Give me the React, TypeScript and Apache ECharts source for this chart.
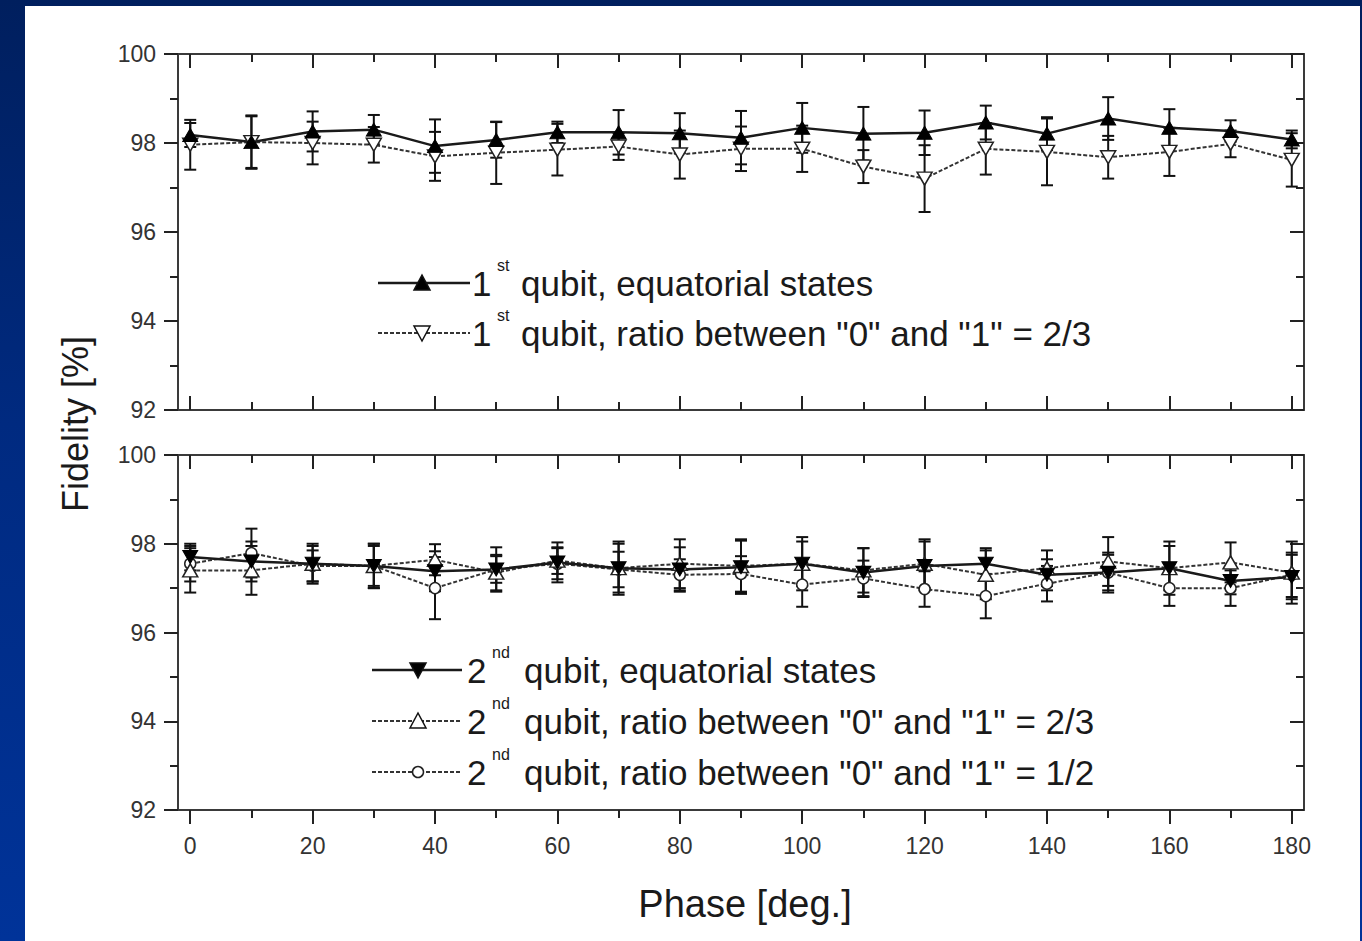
import { useEffect, useRef } from "react";
import * as echarts from "echarts";

const phases = [0, 10, 20, 30, 40, 50, 60, 70, 80, 90, 100, 110, 120, 130, 140, 150, 160, 170, 180];

// Top panel: 1st qubit
const q1Equatorial = [98.18, 98.02, 98.26, 98.3, 97.93, 98.07, 98.24, 98.24, 98.22, 98.12, 98.34, 98.21, 98.23, 98.46, 98.21, 98.55, 98.34, 98.27, 98.08];
const q1EquatorialErr = [0.27, 0.6, 0.45, 0.33, 0.6, 0.4, 0.24, 0.5, 0.45, 0.6, 0.56, 0.6, 0.5, 0.38, 0.37, 0.48, 0.42, 0.24, 0.2];
const q1Ratio23 = [97.96, 98.02, 98.0, 97.96, 97.7, 97.78, 97.85, 97.92, 97.74, 97.87, 97.87, 97.47, 97.2, 97.87, 97.8, 97.68, 97.8, 97.98, 97.62];
const q1Ratio23Err = [0.56, 0.58, 0.48, 0.4, 0.55, 0.7, 0.58, 0.3, 0.54, 0.5, 0.52, 0.37, 0.75, 0.58, 0.75, 0.48, 0.54, 0.3, 0.6];

// Bottom panel: 2nd qubit
const q2Equatorial = [97.7, 97.6, 97.55, 97.5, 97.38, 97.42, 97.58, 97.45, 97.42, 97.47, 97.55, 97.35, 97.5, 97.55, 97.3, 97.35, 97.45, 97.16, 97.25];
const q2EquatorialErr = [0.3, 0.45, 0.45, 0.5, 0.45, 0.5, 0.45, 0.6, 0.5, 0.6, 0.6, 0.55, 0.55, 0.35, 0.35, 0.4, 0.6, 0.3, 0.5];
const q2Ratio23 = [97.4, 97.4, 97.55, 97.5, 97.64, 97.35, 97.62, 97.45, 97.55, 97.5, 97.55, 97.4, 97.55, 97.3, 97.45, 97.6, 97.45, 97.58, 97.35];
const q2Ratio23Err = [0.5, 0.55, 0.4, 0.5, 0.35, 0.4, 0.3, 0.55, 0.55, 0.6, 0.5, 0.5, 0.55, 0.55, 0.4, 0.55, 0.5, 0.45, 0.7];
const q2Ratio12 = [97.55, 97.79, 97.5, 97.5, 97.0, 97.42, 97.55, 97.42, 97.3, 97.32, 97.08, 97.22, 96.98, 96.82, 97.1, 97.35, 97.0, 97.0, 97.3];
const q2Ratio12Err = [0.4, 0.55, 0.35, 0.45, 0.7, 0.3, 0.35, 0.4, 0.35, 0.4, 0.5, 0.4, 0.4, 0.5, 0.4, 0.45, 0.4, 0.4, 0.5];

const xMajorTicks = [0, 20, 40, 60, 80, 100, 120, 140, 160, 180];
const xMinorTicks = [10, 30, 50, 70, 90, 110, 130, 150, 170];
const yMin = 92;
const yMax = 100;
const yStep = 2;

const seriesNames = [
  "1st qubit, equatorial states",
  "1st qubit, ratio between \"0\" and \"1\" = 2/3",
  "2nd qubit, equatorial states",
  "2nd qubit, ratio between \"0\" and \"1\" = 2/3",
  "2nd qubit, ratio between \"0\" and \"1\" = 1/2",
];

const FONT = "'Liberation Sans', Arial, Helvetica, sans-serif";
const AXIS_COLOR = "#3a3a3a";

function points(ys: number[]) {
  return phases.map((x, i) => [x, ys[i]]);
}
function errBars(ys: number[], errs: number[]) {
  return phases.map((x, i) => [x, ys[i] - errs[i], ys[i] + errs[i]]);
}

const renderErr = (_params: any, api: any) => {
  const x = api.value(0);
  const lo = api.coord([x, api.value(1)]);
  const hi = api.coord([x, api.value(2)]);
  const hw = 6;
  const style = { stroke: "#111", lineWidth: 2 };
  return {
    type: "group",
    children: [
      { type: "line", shape: { x1: lo[0], y1: lo[1], x2: hi[0], y2: hi[1] }, style },
      { type: "line", shape: { x1: lo[0] - hw, y1: lo[1], x2: lo[0] + hw, y2: lo[1] }, style },
      { type: "line", shape: { x1: hi[0] - hw, y1: hi[1], x2: hi[0] + hw, y2: hi[1] }, style },
    ],
  };
};

function xAxesFor(g: number) {
  const base = {
    gridIndex: g,
    type: "value",
    min: -2,
    max: 182,
    splitLine: { show: false },
    axisPointer: { show: false },
  };
  const tickStyle = { color: "#222", width: 2 };
  return [
    {
      ...base,
      position: "bottom",
      axisLine: { show: true, onZero: false, lineStyle: { color: AXIS_COLOR, width: 2 } },
      axisTick: { show: true, customValues: xMajorTicks, inside: g === 0, length: 14, lineStyle: tickStyle },
      axisLabel: {
        show: g === 1,
        customValues: xMajorTicks,
        margin: 24,
        fontSize: 23,
        color: "#333",
        fontFamily: FONT,
      },
    },
    {
      ...base,
      position: "bottom",
      axisLine: { show: false },
      axisTick: { show: true, customValues: xMinorTicks, inside: g === 0, length: 8, lineStyle: tickStyle },
      axisLabel: { show: false },
    },
    {
      ...base,
      position: "top",
      axisLine: { show: true, onZero: false, lineStyle: { color: AXIS_COLOR, width: 2 } },
      axisTick: { show: true, customValues: xMajorTicks, inside: true, length: 14, lineStyle: tickStyle },
      axisLabel: { show: false },
    },
    {
      ...base,
      position: "top",
      axisLine: { show: false },
      axisTick: { show: true, customValues: xMinorTicks, inside: true, length: 8, lineStyle: tickStyle },
      axisLabel: { show: false },
    },
  ];
}

function yAxesFor(g: number) {
  const base = {
    gridIndex: g,
    type: "value",
    min: yMin,
    max: yMax,
    interval: yStep,
    splitLine: { show: false },
    minorSplitLine: { show: false },
    axisLine: { show: true, onZero: false, lineStyle: { color: AXIS_COLOR, width: 2 } },
  };
  const tickStyle = { color: "#222", width: 2 };
  return [
    {
      ...base,
      position: "left",
      axisTick: { show: true, inside: false, length: 14, lineStyle: tickStyle },
      minorTick: { show: true, splitNumber: 2, length: 8, lineStyle: tickStyle },
      axisLabel: { show: true, margin: 22, fontSize: 23, color: "#333", fontFamily: FONT },
    },
    {
      ...base,
      position: "right",
      axisTick: { show: true, inside: true, length: 14, lineStyle: tickStyle },
      minorTick: { show: true, splitNumber: 2, length: 8, lineStyle: tickStyle },
      axisLabel: { show: false },
    },
  ];
}

function errSeries(name: string, g: number, ys: number[], errs: number[]) {
  return {
    name: name + " error",
    type: "custom",
    xAxisIndex: g * 4,
    yAxisIndex: g * 2,
    renderItem: renderErr,
    encode: { x: 0, y: [1, 2] },
    data: errBars(ys, errs),
    z: 2,
    silent: true,
  };
}

function lineSeries(
  name: string,
  g: number,
  ys: number[],
  kind: "filledUp" | "openDown" | "filledDown" | "openUp" | "openCircle"
) {
  const solid = kind === "filledUp" || kind === "filledDown";
  const isCircle = kind === "openCircle";
  const rotate = kind === "openDown" || kind === "filledDown" ? 180 : 0;
  return {
    name,
    type: "line",
    xAxisIndex: g * 4,
    yAxisIndex: g * 2,
    data: points(ys),
    symbol: isCircle ? "circle" : "triangle",
    symbolSize: isCircle ? 11 : [15, 13],
    symbolRotate: rotate,
    showSymbol: true,
    lineStyle: solid
      ? { color: "#1a1a1a", width: 2.5, type: "solid" }
      : { color: "#333", width: 2, type: [4, 2] },
    itemStyle: solid
      ? { color: "#000", borderColor: "#000", borderWidth: 1 }
      : { color: "#fff", borderColor: "#222", borderWidth: 1.5 },
    z: 3,
  };
}

// legend drawing helpers (legend only, not data marks)
function legendRow(
  y: number,
  x0: number,
  x1: number,
  mx: number,
  kind: string,
  num: string,
  sup: string,
  numX: number,
  textX: number,
  text: string
) {
  const solid = kind === "filledUp" || kind === "filledDown";
  const els: any[] = [];
  els.push({
    type: "line",
    shape: { x1: x0, y1: y, x2: x1, y2: y },
    style: solid
      ? { stroke: "#1a1a1a", lineWidth: 2.5 }
      : { stroke: "#333", lineWidth: 2, lineDash: [4, 2] },
    z: 10,
  });
  const fill = solid ? "#000" : "#fff";
  if (kind === "filledUp" || kind === "openUp") {
    els.push({
      type: "polygon",
      shape: { points: [[mx - 8, y + 7], [mx + 8, y + 7], [mx, y - 8]] },
      style: { fill, stroke: "#111", lineWidth: 1.5 },
      z: 11,
    });
  } else if (kind === "filledDown" || kind === "openDown") {
    els.push({
      type: "polygon",
      shape: { points: [[mx - 8, y - 7], [mx + 8, y - 7], [mx, y + 8]] },
      style: { fill, stroke: "#111", lineWidth: 1.5 },
      z: 11,
    });
  } else {
    els.push({
      type: "circle",
      shape: { cx: mx, cy: y, r: 5.5 },
      style: { fill: "#fff", stroke: "#222", lineWidth: 1.5 },
      z: 11,
    });
  }
  els.push({
    type: "text",
    x: numX,
    y,
    style: { text: num, fontSize: 35, fontFamily: FONT, fill: "#1a1a1a", textAlign: "left", textVerticalAlign: "middle" },
    z: 11,
  });
  els.push({
    type: "text",
    x: numX + 25,
    y: y - 18,
    style: { text: sup, fontSize: 16, fontFamily: FONT, fill: "#1a1a1a", textAlign: "left", textVerticalAlign: "middle" },
    z: 11,
  });
  els.push({
    type: "text",
    x: textX,
    y,
    style: { text, fontSize: 35, fontFamily: FONT, fill: "#1a1a1a", textAlign: "left", textVerticalAlign: "middle" },
    z: 11,
  });
  return els;
}

function buildOption() {
  const graphic: any[] = [
    ...legendRow(283, 378, 470, 422, "filledUp", "1", "st", 472, 521, "qubit, equatorial states"),
    ...legendRow(333, 378, 470, 422, "openDown", "1", "st", 472, 521, "qubit, ratio between \"0\" and \"1\" = 2/3"),
    ...legendRow(670, 372, 462, 418, "filledDown", "2", "nd", 467, 524, "qubit, equatorial states"),
    ...legendRow(721, 372, 462, 418, "openUp", "2", "nd", 467, 524, "qubit, ratio between \"0\" and \"1\" = 2/3"),
    ...legendRow(772, 372, 462, 418, "openCircle", "2", "nd", 467, 524, "qubit, ratio between \"0\" and \"1\" = 1/2"),
    {
      type: "text",
      x: 75,
      y: 424,
      rotation: Math.PI / 2,
      style: { text: "Fidelity [%]", fontSize: 36, fontFamily: FONT, fill: "#1a1a1a", textAlign: "center", textVerticalAlign: "middle" },
    },
    {
      type: "text",
      x: 745,
      y: 904,
      style: { text: "Phase [deg.]", fontSize: 38, fontFamily: FONT, fill: "#1a1a1a", textAlign: "center", textVerticalAlign: "middle" },
    },
  ];

  return {
    animation: false,
    backgroundColor: "transparent",
    textStyle: { fontFamily: FONT },
    grid: [
      { left: 178, top: 54, width: 1126, height: 356, containLabel: false },
      { left: 178, top: 455, width: 1126, height: 355, containLabel: false },
    ],
    xAxis: [...xAxesFor(0), ...xAxesFor(1)],
    yAxis: [...yAxesFor(0), ...yAxesFor(1)],
    graphic,
    series: [
      errSeries(seriesNames[0], 0, q1Equatorial, q1EquatorialErr),
      errSeries(seriesNames[1], 0, q1Ratio23, q1Ratio23Err),
      errSeries(seriesNames[2], 1, q2Equatorial, q2EquatorialErr),
      errSeries(seriesNames[3], 1, q2Ratio23, q2Ratio23Err),
      errSeries(seriesNames[4], 1, q2Ratio12, q2Ratio12Err),
      lineSeries(seriesNames[1], 0, q1Ratio23, "openDown"),
      lineSeries(seriesNames[0], 0, q1Equatorial, "filledUp"),
      lineSeries(seriesNames[4], 1, q2Ratio12, "openCircle"),
      lineSeries(seriesNames[3], 1, q2Ratio23, "openUp"),
      lineSeries(seriesNames[2], 1, q2Equatorial, "filledDown"),
    ],
  };
}

export default function App() {
  const ref = useRef<HTMLDivElement>(null);
  useEffect(() => {
    if (!ref.current) return;
    const chart = echarts.init(ref.current, null, { renderer: "svg" });
    chart.setOption(buildOption() as any);
    return () => chart.dispose();
  }, []);
  return (
    <div
      style={{
        position: "fixed",
        left: 0,
        top: 0,
        width: 1362,
        height: 941,
        background: "linear-gradient(180deg, #001f5e 0%, #002a80 45%, #003399 100%)",
        overflow: "hidden",
      }}
    >
      <div style={{ position: "absolute", left: 25, top: 6, width: 1335, height: 935, background: "#ffffff" }} />
      <div ref={ref} style={{ position: "absolute", left: 0, top: 0, width: 1362, height: 941 }} />
    </div>
  );
}
